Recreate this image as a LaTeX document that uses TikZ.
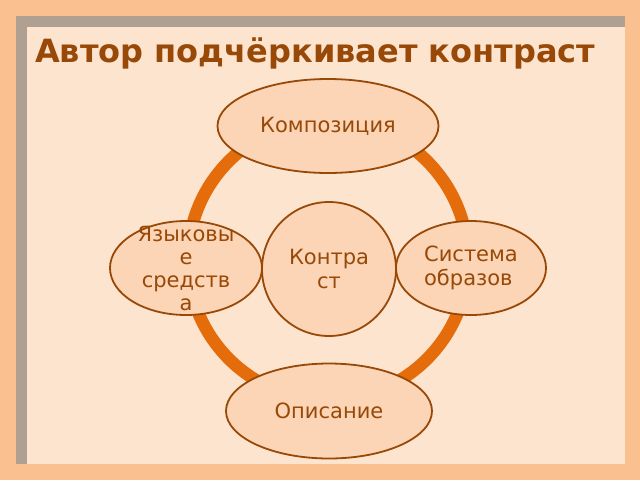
\documentclass[tikz,border=0pt]{standalone}
\usepackage{fontspec}
\setmainfont{DejaVu Sans}
\usetikzlibrary{shapes.geometric}
\begin{document}
\begin{tikzpicture}[x=1pt,y=-1pt,
bulle/.style={ellipse,draw=brunbord,line width=1.8pt,fill=pechebulle,
 inner sep=0pt,text=brunbord,align=center,
 font=\fontsize{21}{24}\selectfont},
anneau/.style={draw=orangeanneau,line width=12.5pt}]

\pgfmathsetmacro\brunR{152/255}
\pgfmathsetmacro\brunG{72/255}
\pgfmathsetmacro\brunB{7/255}

\pgfmathsetmacro\orangeR{228/255}
\pgfmathsetmacro\orangeG{108/255}
\pgfmathsetmacro\orangeB{10/255}

\definecolor{brunbord}{rgb}{\brunR, \brunG, \brunB}
\definecolor{orangeanneau}{rgb}{\orangeR, \orangeG, \orangeB}
\definecolor{pechebulle}{RGB}{251,213,181}
\definecolor{fondext}{RGB}{250,192,144}
\definecolor{fondint}{RGB}{253,228,207}
\definecolor{grisbord}{RGB}{176,160,146}

\useasboundingbox (0,0) rectangle (640,480);
\fill[fondext] (0,0) rectangle (640,480);
\fill[grisbord] (16,16) rectangle (625,464);
\fill[fondint] (27,27) rectangle (625,464);

\node[anchor=base west,inner sep=0pt,text=brunbord,
 font=\fontsize{32}{36}\bfseries\selectfont] (titre) at (35,62)
 {Автор подчёркивает контраст};

\coordinate (centre) at (328,260);
\draw[anneau] (centre) circle (140pt);

\node[bulle,minimum width=221pt,minimum height=94pt] (composition)
 at (328,126) {Композиция};
\node[bulle,minimum width=152pt,minimum height=94pt,inner ysep=-16pt,
 font=\fontsize{21}{23}\selectfont] (langage) at (186,268)
 {Языковы\\е\\средств\\а};
\node[bulle,minimum width=134pt,minimum height=134pt] (contraste)
 at (329,269) {Контра\\ст};
\node[bulle,minimum width=150pt,minimum height=94pt,align=left] (systeme)
 at (471,268) {Система\\образов};
\node[bulle,minimum width=206pt,minimum height=95pt] (description)
 at (329,411) {Описание};

\end{tikzpicture}
\end{document}
